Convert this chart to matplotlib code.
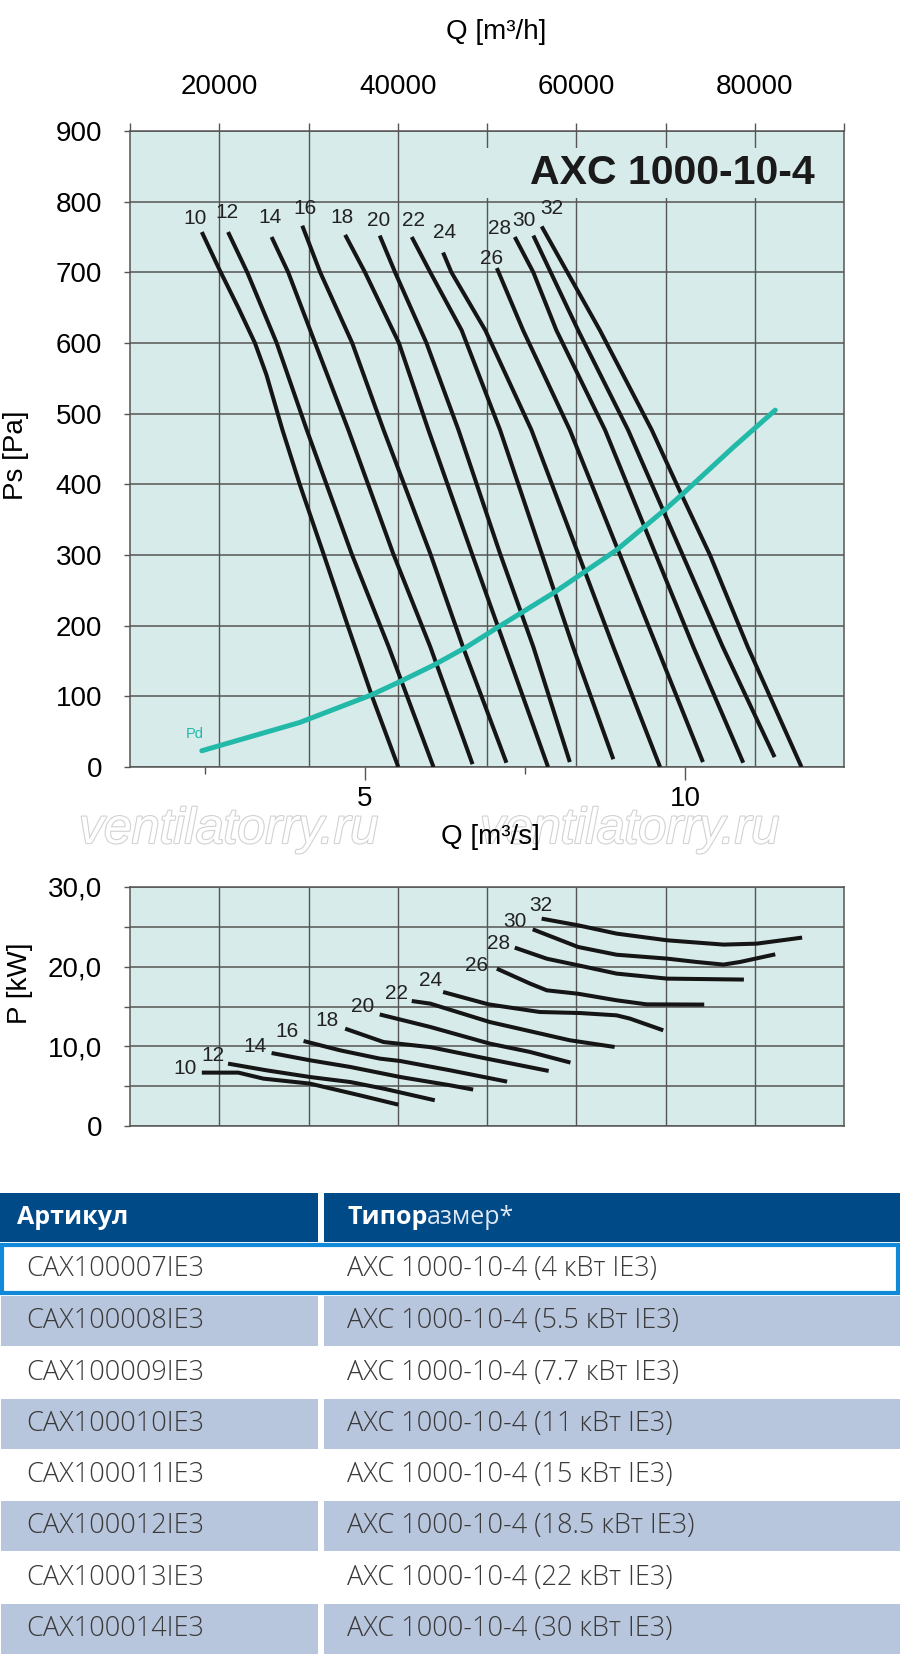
import numpy as np
import matplotlib
matplotlib.use("Agg")
import matplotlib.pyplot as plt
from matplotlib.patches import Rectangle
import matplotlib.patheffects as pe

W, H = 900, 1655

# ---------------- data ----------------
speeds = [10, 12, 14, 16, 18, 20, 22, 24, 26, 28, 30, 32]

# static pressure curves: Q [m3/s] vs Ps [Pa]
q_10 = [2.45, 2.73, 3.02, 3.28, 3.46, 3.71, 3.98, 4.35, 4.73, 5.11, 5.52]
ps_10 = [757, 703, 650, 600, 555, 477, 400, 302, 200, 100, 0]
q_12 = [2.86, 3.16, 3.62, 4.09, 4.79, 5.37, 6.07]
ps_12 = [757, 700, 600, 477, 302, 170, 0]
q_14 = [3.54, 3.80, 4.22, 4.74, 5.44, 6.02, 6.68]
ps_14 = [750, 700, 600, 477, 302, 170, 4]
q_16 = [4.02, 4.30, 4.80, 5.29, 6.02, 6.53, 7.21]
ps_16 = [766, 700, 600, 477, 302, 170, 6]
q_18 = [4.69, 5.00, 5.53, 5.99, 6.67, 7.19, 7.86]
ps_18 = [753, 700, 600, 477, 302, 170, 0]
q_20 = [5.23, 5.47, 5.96, 6.46, 7.11, 7.63, 8.20]
ps_20 = [752, 700, 600, 477, 302, 170, 7]
q_22 = [5.73, 6.02, 6.51, 7.11, 8.25, 8.88]
ps_22 = [750, 700, 618, 477, 170, 11]
q_24 = [6.22, 6.35, 6.88, 7.60, 8.88, 9.61]
ps_24 = [728, 700, 618, 477, 170, 0]
q_26 = [7.06, 7.47, 8.20, 9.56, 10.28]
ps_26 = [706, 618, 477, 170, 7]
q_28 = [7.34, 7.63, 7.99, 8.75, 10.13, 10.91]
ps_28 = [750, 700, 618, 477, 170, 6]
q_30 = [7.63, 8.33, 9.11, 10.59, 11.40]
ps_30 = [752, 618, 477, 170, 14]
q_32 = [7.76, 8.67, 9.48, 9.87, 10.39, 10.98, 11.82]
ps_32 = [765, 618, 477, 400, 300, 170, 0]

# dynamic pressure
q_pd = [2.45, 3.98, 5.10, 5.55, 6.07, 6.59, 7.08, 7.94, 8.93, 9.71, 9.97, 10.76, 11.41]
pd = [23, 63, 102, 121, 144, 170, 198, 246, 307, 366, 387, 453, 505]

# shaft power curves: Q [m3/s] vs P [kW]
qp_10 = [2.45, 3.02, 3.41, 4.14, 4.92, 5.52]
p_10 = [6.70, 6.70, 5.95, 5.32, 3.85, 2.68]
qp_12 = [2.86, 3.46, 4.14, 4.77, 5.29, 6.09]
p_12 = [7.83, 6.99, 6.15, 5.52, 4.69, 3.23]
qp_14 = [3.54, 4.14, 4.77, 5.55, 6.33, 6.69]
p_14 = [9.16, 8.25, 7.41, 6.15, 5.11, 4.57]
qp_16 = [4.04, 4.61, 5.23, 5.55, 6.33, 7.22]
p_16 = [10.67, 9.50, 8.46, 8.16, 6.99, 5.57]
qp_18 = [4.69, 5.29, 6.02, 6.90, 7.87]
p_18 = [12.22, 10.54, 9.90, 8.46, 6.91]
qp_20 = [5.23, 6.02, 6.95, 7.58, 8.21]
p_20 = [14.00, 12.43, 10.34, 9.29, 7.96]
qp_22 = [5.73, 6.02, 6.95, 8.20, 8.90]
p_22 = [15.69, 15.36, 13.05, 10.76, 9.92]
qp_24 = [6.22, 6.93, 7.73, 8.36, 8.93, 9.14, 9.66]
p_24 = [16.82, 15.27, 14.31, 14.18, 13.89, 13.48, 12.01]
qp_26 = [7.06, 7.58, 7.84, 8.33, 8.93, 9.40, 10.30]
p_26 = [19.75, 17.87, 17.03, 16.60, 15.78, 15.27, 15.24]
qp_28 = [7.34, 7.84, 8.33, 8.93, 9.72, 10.92]
p_28 = [22.39, 21.00, 20.17, 19.13, 18.50, 18.38]
qp_30 = [7.62, 8.33, 8.93, 9.72, 10.18, 10.60, 10.86, 11.41]
p_30 = [24.69, 22.47, 21.50, 21.01, 20.59, 20.26, 20.59, 21.55]
qp_32 = [7.76, 8.33, 8.93, 9.72, 10.60, 11.12, 11.83]
p_32 = [26.03, 25.19, 24.15, 23.31, 22.77, 22.89, 23.65]

q_h_ticks = [10000, 20000, 30000, 40000, 50000, 60000, 70000, 80000, 90000]
q_h_labels = ["", "20000", "", "40000", "", "60000", "", "80000", ""]

articles = ["CAX100007IE3", "CAX100008IE3", "CAX100009IE3", "CAX100010IE3",
            "CAX100011IE3", "CAX100012IE3", "CAX100013IE3", "CAX100014IE3"]
motors = ["4", "5.5", "7.7", "11", "15", "18.5", "22", "30"]

# label anchors for the curve numbers (layout, not data)
top_lbl_pos = [(2.34, 776), (2.85, 784), (3.52, 778), (4.06, 791), (4.64, 778), (5.21, 774),
               (5.75, 774), (6.25, 756), (6.98, 720), (7.10, 762), (7.48, 774), (7.92, 791)]
bot_lbl_pos = [(2.19, 7.2), (2.63, 8.87), (3.28, 9.92), (3.78, 11.8), (4.41, 13.27), (4.97, 14.94),
               (5.49, 16.62), (6.02, 18.29), (6.74, 20.17), (7.08, 22.97), (7.34, 25.73), (7.75, 27.7)]

ps_curves = [(q_10, ps_10), (q_12, ps_12), (q_14, ps_14), (q_16, ps_16), (q_18, ps_18), (q_20, ps_20),
             (q_22, ps_22), (q_24, ps_24), (q_26, ps_26), (q_28, ps_28), (q_30, ps_30), (q_32, ps_32)]
p_curves = [(qp_10, p_10), (qp_12, p_12), (qp_14, p_14), (qp_16, p_16), (qp_18, p_18), (qp_20, p_20),
            (qp_22, p_22), (qp_24, p_24), (qp_26, p_26), (qp_28, p_28), (qp_30, p_30), (qp_32, p_32)]

# ---------------- style ----------------
plt.rcParams['font.family'] = ['Liberation Sans', 'DejaVu Sans']
BG = '#d7ebea'
GRID = '#555555'
TEAL = '#22b9a9'
XLIM = (1.328, 12.484)   # m3/s at the left / right frame
QH0, QH1 = 10000, 90000  # m3/h at the left / right frame


def to_h(q):
    return QH0 + (np.asarray(q) - XLIM[0]) / (XLIM[1] - XLIM[0]) * (QH1 - QH0)


def to_s(h):
    return XLIM[0] + (np.asarray(h) - QH0) / (QH1 - QH0) * (XLIM[1] - XLIM[0])


def px_axes(x0, y0, x1, y1):
    return [x0 / W, 1 - y1 / H, (x1 - x0) / W, (y1 - y0) / H]


fig = plt.figure(figsize=(W / 100, H / 100), dpi=100)

# ---------------- top chart: Ps ----------------
ax = fig.add_axes(px_axes(130, 131, 844, 767))
ax.set_facecolor(BG)
ax.set_xlim(*XLIM)
ax.set_ylim(0, 900)
ax.set_yticks(range(0, 901, 100))
ax.grid(axis='y', color=GRID, lw=1.1)
ax.set_axisbelow(True)
ax.vlines(to_s(q_h_ticks[1:-1]), 0, 900, colors=GRID, lw=1.0, zorder=0.6)
ax.add_patch(Rectangle((0.49, 0.895), 0.508, 0.078, transform=ax.transAxes,
                       facecolor=BG, edgecolor='none', zorder=0.8))
for s in ax.spines.values():
    s.set_color(GRID)
    s.set_linewidth(1.1)

ax.set_xticks([5, 10])
ax.set_xticklabels(['5', '10'])
ax.set_xticks([2.5, 7.5], minor=True)
ax.tick_params(axis='x', which='major', length=9, width=1, color=GRID, labelsize=20, pad=5)
ax.tick_params(axis='x', which='minor', length=5, width=1, color=GRID)
ax.tick_params(axis='y', length=4, width=1, color=GRID, labelsize=20, pad=16)

top = ax.secondary_xaxis('top', functions=(to_h, to_s))
top.set_xticks(q_h_ticks)
top.set_xticklabels(q_h_labels)
top.tick_params(length=6, width=1, color=GRID, labelsize=20, pad=16)
top.spines['top'].set_visible(False)

for (q, ps), lab, (lx, ly) in zip(ps_curves, speeds, top_lbl_pos):
    ax.plot(q, ps, color='#151515', lw=2.9, solid_capstyle='butt', solid_joinstyle='round', zorder=3)
    ax.text(lx, ly, str(lab), fontsize=15, ha='center', va='center', color='#222222', zorder=4)

ax.plot(q_pd, pd, color=TEAL, lw=3.6, solid_capstyle='round', solid_joinstyle='round', zorder=3.5)
ax.text(2.34, 47, 'Pd', color=TEAL, fontsize=10.5, ha='center', va='center')
ax.text(0.959, 0.934, 'AXC 1000-10-4', transform=ax.transAxes, ha='right', va='center',
        fontsize=29.5, fontweight='bold', color='#1a1a1a', zorder=4)

fig.text(496 / W, 1 - 32 / H, 'Q [m³/h]', fontsize=20, ha='center', va='center')
fig.text(16 / W, 1 - 455 / H, 'Ps [Pa]', fontsize=20, rotation=90, ha='center', va='center')

# watermark and lower axis title
for wx in (79, 480):
    fig.text(wx / W, 1 - 830 / H, 'ventilatorry.ru', fontsize=36, style='italic', color='white',
             ha='left', va='center',
             path_effects=[pe.withStroke(linewidth=1.6, foreground='#d2d2d2')])
fig.text(490 / W, 1 - 837 / H, 'Q [m³/s]', fontsize=20, ha='center', va='center')

# ---------------- bottom chart: P ----------------
bx = fig.add_axes(px_axes(130, 887, 844, 1126))
bx.set_facecolor(BG)
bx.set_xlim(*XLIM)
bx.set_ylim(0, 30)
bx.set_yticks([0, 10, 20, 30])
bx.set_yticklabels(['0', '10,0', '20,0', '30,0'])
bx.set_yticks([5, 15, 25], minor=True)
bx.set_xticks([])
bx.grid(axis='y', which='both', color=GRID, lw=1.1)
bx.set_axisbelow(True)
bx.vlines(to_s(q_h_ticks[1:-1]), 0, 30, colors=GRID, lw=1.0, zorder=0.6)
bx.tick_params(axis='y', which='both', length=4, width=1, color=GRID, labelsize=20, pad=16)
for s in bx.spines.values():
    s.set_color(GRID)
    s.set_linewidth(1.1)

for (q, p), lab, (lx, ly) in zip(p_curves, speeds, bot_lbl_pos):
    bx.plot(q, p, color='#151515', lw=2.9, solid_capstyle='butt', solid_joinstyle='round', zorder=3)
    bx.text(lx, ly, str(lab), fontsize=15, ha='center', va='center', color='#222222', zorder=4)

fig.text(20 / W, 1 - 983 / H, 'P [kW]', fontsize=20, rotation=90, ha='center', va='center')

# ---------------- table ----------------
HDR = '#004a88'
SHADE = '#b8c6dd'
EDGE = '#108ad8'
TXT = '#3a3a3a'


def rect(x0, y0, x1, y1, **kw):
    fig.add_artist(Rectangle((x0 / W, 1 - y1 / H), (x1 - x0) / W, (y1 - y0) / H,
                             transform=fig.transFigure, **kw))


rect(0, 1192.7, 318.3, 1241.7, facecolor=HDR, edgecolor='none')
rect(324, 1192.7, 900, 1241.7, facecolor=HDR, edgecolor='none')
fig.text(17 / W, 1 - 1218 / H, 'Артикул', fontsize=18, fontweight='bold', color='white',
         family=['Open Sans', 'DejaVu Sans'], ha='left', va='center')
t1 = fig.text(347 / W, 1 - 1218 / H, 'Типор', fontsize=18, fontweight='bold', color='white',
              family=['Open Sans', 'DejaVu Sans'], ha='left', va='center')
r = fig.canvas.get_renderer()
bb = t1.get_window_extent(renderer=r)
fig.text(bb.x1 / W, 1 - 1218 / H, 'азмер*', fontsize=18, color='#dfe8f3',
         family=['Open Sans', 'DejaVu Sans'], ha='left', va='center')

row_top = [1243.0] + [1295.8 + k * 51.25 for k in range(7)]
for i, (art, kw) in enumerate(zip(articles, motors)):
    y0 = row_top[i]
    if i == 0:
        yc = 1269.5
    else:
        yc = y0 + 25.6
        if i % 2 == 1:
            rect(1, y0 + 0.5, 318.3, y0 + 50.5, facecolor=SHADE, edgecolor='none')
            rect(324, y0 + 0.5, 900, y0 + 50.5, facecolor=SHADE, edgecolor='none')
    fig.text(26.7 / W, 1 - yc / H, art, fontsize=19.5, color=TXT, fontweight='light',
             family=['Open Sans', 'DejaVu Sans'], ha='left', va='center')
    fig.text(347 / W, 1 - yc / H, f'AXC 1000-10-4 ({kw} кВт IE3)', fontsize=19.5, color=TXT,
             fontweight='light', family=['Open Sans', 'DejaVu Sans'], ha='left', va='center')

rect(2, 1244.7, 898, 1293, facecolor='none', edgecolor=EDGE, lw=3)

fig.savefig('out.png', dpi=100)
